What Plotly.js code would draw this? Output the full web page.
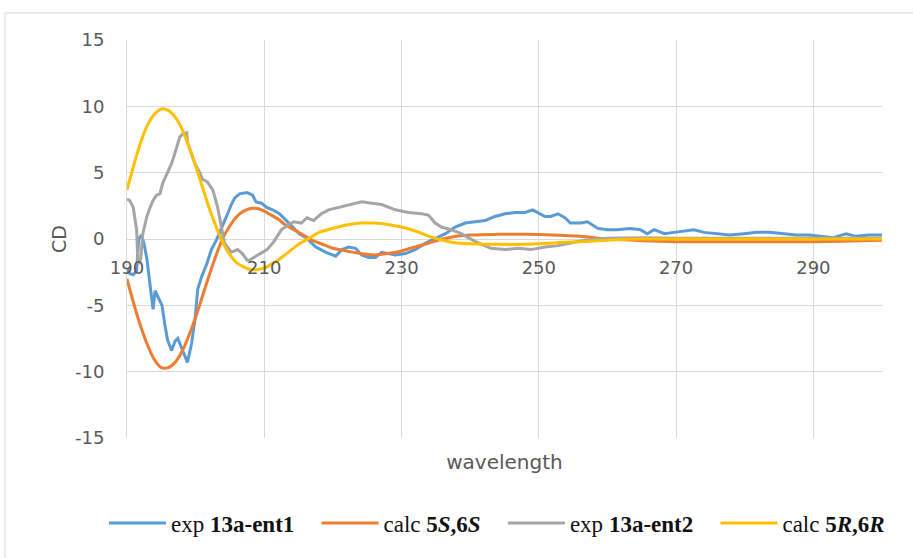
<!DOCTYPE html>
<html><head><meta charset="utf-8">
<script src="https://cdn.plot.ly/plotly-3.0.1.min.js"></script>
<style>html,body{margin:0;padding:0;background:#fff;}</style>
</head><body><div id="chart" style="width:913px;height:558px;"></div>
<script>
// exp 13a-ent1 (blue)
const ent1Wl = [190.0,190.4,190.9,191.4,191.7,192.1,192.5,192.9,193.3,193.6,193.8,194.1,194.5,195.1,195.5,195.9,196.5,197.0,197.4,198.0,198.4,198.8,199.4,199.9,200.3,200.9,201.6,202.3,203.0,203.8,204.5,205.2,205.7,206.4,207.5,208.3,208.8,209.6,210.3,211.2,212.2,213.2,214.1,215.1,216.1,217.5,219.0,220.4,221.3,222.3,223.3,224.2,225.2,226.2,227.1,228.1,229.1,230.6,232.0,233.5,234.3,236.4,237.8,239.3,240.7,242.2,243.6,245.1,246.5,248.0,249.1,249.9,250.9,251.7,252.8,253.8,254.6,256.1,257.1,258.6,260.0,261.4,263.3,264.8,265.8,266.8,268.3,269.7,271.2,272.6,274.1,275.9,277.8,279.9,281.7,283.6,285.7,287.5,289.4,291.4,292.9,294.8,296.2,298.1,300.0];
const ent1Cd = [-2.2,-2.6,-2.7,-2.4,0.0,0.3,-0.4,-1.5,-3.2,-4.8,-5.3,-3.9,-4.4,-5.0,-6.4,-7.6,-8.4,-7.7,-7.5,-8.3,-8.9,-9.3,-7.9,-6.1,-3.8,-2.8,-1.9,-0.8,-0.1,0.8,1.7,2.6,3.1,3.4,3.5,3.3,2.8,2.7,2.4,2.2,1.9,1.4,0.9,0.4,0.1,-0.6,-1.0,-1.3,-0.8,-0.6,-0.7,-1.2,-1.4,-1.4,-1.0,-1.1,-1.2,-1.1,-0.8,-0.3,-0.1,0.4,0.9,1.2,1.3,1.4,1.7,1.9,2.0,2.0,2.2,2.0,1.7,1.7,1.9,1.6,1.2,1.2,1.3,0.8,0.7,0.7,0.8,0.7,0.4,0.7,0.4,0.5,0.6,0.7,0.5,0.4,0.3,0.4,0.5,0.5,0.4,0.3,0.3,0.2,0.1,0.4,0.2,0.3,0.3];

// calc 5S,6S (orange)
const calcSWl = [190,191,192,193,194,195,196,197,198,199,200,201,202,203,204,205,206,207,208,209,210,211,212,213,214,215,216,217,218,219,220,222,224,226,228,230,232,234,236,238,240,244,248,252,256,260,264,270,280,290,300];
const calcSCd = [-3.0,-4.9,-6.6,-8.0,-9.1,-9.7,-9.7,-9.3,-8.5,-7.3,-5.9,-4.3,-2.7,-1.2,0.1,1.0,1.7,2.1,2.3,2.3,2.1,1.8,1.5,1.1,0.8,0.5,0.2,-0.1,-0.3,-0.5,-0.7,-0.9,-1.1,-1.2,-1.1,-0.9,-0.6,-0.3,0.0,0.2,0.3,0.35,0.35,0.3,0.2,0.0,-0.1,-0.2,-0.2,-0.2,-0.1];

// exp 13a-ent2 (gray)
const ent2Wl = [190.0,190.4,190.9,191.4,191.6,192.0,192.3,192.9,193.3,193.8,194.3,194.8,195.2,195.9,196.5,197.0,197.4,197.7,198.1,198.7,198.8,199.4,199.9,200.6,201.0,201.7,202.5,203.2,203.8,204.2,205.2,206.1,206.8,207.5,207.8,208.8,209.6,210.4,211.4,212.5,213.3,214.3,215.4,216.2,217.2,218.3,219.4,220.9,222.3,224.2,225.7,227.1,229.1,231.0,232.9,233.9,234.9,235.8,237.2,238.7,239.7,241.2,243.0,245.1,247.0,248.8,250.9,252.8,254.6,256.7,260,265,270,280,290,300];
const ent2Cd = [3.0,2.9,2.4,0.7,-1.9,-1.5,0.4,1.7,2.3,2.9,3.3,3.4,4.2,5.0,5.7,6.5,7.2,7.7,7.9,8.0,7.3,6.5,5.7,5.0,4.5,4.3,3.7,2.4,0.9,-0.3,-1.0,-0.8,-1.1,-1.6,-1.6,-1.3,-1.1,-0.8,-0.2,0.7,1.0,1.3,1.2,1.6,1.4,1.9,2.2,2.4,2.6,2.8,2.7,2.6,2.2,2.0,1.9,1.8,1.2,0.9,0.7,0.4,0.1,-0.3,-0.7,-0.8,-0.7,-0.8,-0.6,-0.5,-0.3,-0.1,0.05,0.1,0.05,0.05,0.05,0.05];

// calc 5R,6R (yellow)
const calcRWl = [190,191,192,193,194,195,196,197,198,199,200,201,202,203,204,205,206,207,208,209,210,211,212,213,214,215,216,217,218,220,222,224,226,228,230,232,234,236,238,240,244,248,252,256,260,264,270,280,290,300];
const calcRCd = [3.7,5.6,7.3,8.6,9.4,9.8,9.7,9.2,8.3,7.0,5.5,3.9,2.3,0.9,-0.3,-1.2,-1.8,-2.1,-2.3,-2.3,-2.2,-1.9,-1.6,-1.2,-0.8,-0.4,-0.1,0.2,0.5,0.8,1.05,1.2,1.2,1.1,0.9,0.6,0.2,-0.1,-0.3,-0.35,-0.4,-0.4,-0.3,-0.2,-0.1,0.0,0.0,0.0,0.0,0.0];

const seriesNames = ['exp <b>13a-ent1</b>', 'calc <b>5<i>S</i>,6<i>S</i></b>', 'exp <b>13a-ent2</b>', 'calc <b>5<i>R</i>,6<i>R</i></b>'];
const xTickVals = [190,210,230,250,270,290];
const xTickText = ['190','210','230','250','270','290'];
const yTickVals = [-15,-10,-5,0,5,10,15];
const yTickText = ['-15','-10','-5','0','5','10','15'];

const W = 913, H = 558;
const mL = 127, mR = 31, mT = 40, mB = 120;
const pw = W - mL - mR, ph = H - mT - mB;
const px = v => (v - mL) / pw;
const py = v => (H - mB - v) / ph;
const pad = '\u00a0\u00a0\u00a0';

const lw = 3;
const traces = [
  {x: ent1Wl, y: ent1Cd, name: seriesNames[0] + pad, type: 'scatter', mode: 'lines', line: {color: '#5B9BD5', width: lw}},
  {x: calcSWl, y: calcSCd, name: seriesNames[1] + pad, type: 'scatter', mode: 'lines', line: {color: '#ED7D31', width: lw, shape: 'spline', smoothing: 1}},
  {x: ent2Wl, y: ent2Cd, name: seriesNames[2] + pad, type: 'scatter', mode: 'lines', line: {color: '#A5A5A5', width: lw}},
  {x: calcRWl, y: calcRCd, name: seriesNames[3], type: 'scatter', mode: 'lines', xaxis: 'x2', line: {color: '#FFC000', width: lw, shape: 'spline', smoothing: 1}}
];

const tickFont = {family: 'DejaVu Sans', size: 18, color: '#595959'};
const layout = {
  width: W, height: H,
  margin: {l: mL, r: mR, t: mT, b: mB, pad: 0},
  paper_bgcolor: '#ffffff', plot_bgcolor: '#ffffff',
  showlegend: true,
  xaxis: {
    range: [190, 300], tickvals: xTickVals, ticktext: xTickText,
    showticklabels: false, showgrid: true, gridcolor: '#d9d9d9', gridwidth: 1,
    zeroline: false, showline: false, ticks: '',
    title: {text: 'wavelength', font: {family: 'DejaVu Sans', size: 20, color: '#595959'}, standoff: 16},
    fixedrange: true
  },
  xaxis2: {
    range: [190, 300], overlaying: 'x', anchor: 'free', position: 0.5,
    tickvals: xTickVals, ticktext: xTickText, showticklabels: true,
    showgrid: false, zeroline: false, showline: false, ticks: '',
    ticklabelstandoff: 16, tickfont: tickFont, fixedrange: true
  },
  yaxis: {
    range: [-15, 15], tickvals: yTickVals, ticktext: yTickText,
    showgrid: true, gridcolor: '#d9d9d9', gridwidth: 1,
    zeroline: true, zerolinecolor: '#d9d9d9', zerolinewidth: 1,
    showline: true, linecolor: '#d9d9d9', linewidth: 1,
    ticks: '', ticklabelstandoff: 18, tickfont: tickFont,
    title: {text: 'CD', font: {family: 'DejaVu Sans', size: 19, color: '#595959'}, standoff: 3},
    fixedrange: true
  },
  legend: {
    orientation: 'h', x: px(104), y: py(523), xanchor: 'left', yanchor: 'middle',
    font: {family: 'Liberation Serif', size: 23, color: '#111111'},
    itemwidth: 57, traceorder: 'normal', bgcolor: 'rgba(0,0,0,0)'
  },
  shapes: [
    {type: 'rect', xref: 'paper', yref: 'paper', x0: px(5), x1: px(925), y0: py(570), y1: py(13),
     line: {color: '#d9d9d9', width: 1}, fillcolor: 'rgba(0,0,0,0)', layer: 'below'}
  ]
};

Plotly.newPlot('chart', traces, layout, {displayModeBar: false, staticPlot: true});
</script>
</body></html>
